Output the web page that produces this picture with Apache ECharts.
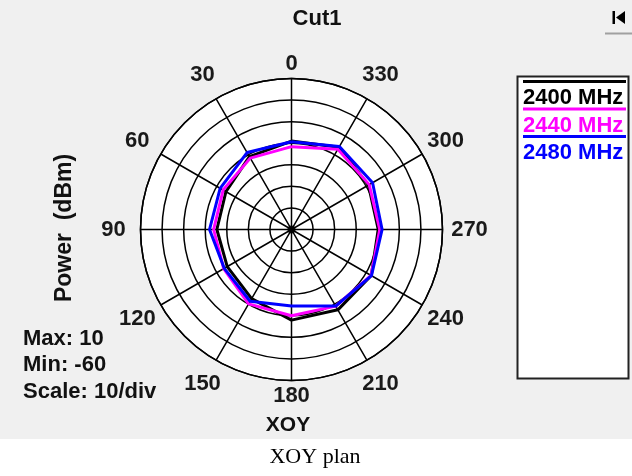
<!DOCTYPE html>
<html>
<head>
<meta charset="utf-8">
<script src="https://cdn.jsdelivr.net/npm/echarts@6/dist/echarts.min.js"></script>
<style>
html,body{margin:0;padding:0;background:#fff;}
#chart{width:632px;height:476px;}
</style>
</head>
<body>
<div id="chart"></div>
<script>
// ---- data ----
const angles = [0, 30, 60, 90, 120, 150, 180, 210, 240, 270, 300, 330];
const angleTickLabels = ['0', '30', '60', '90', '120', '150', '180', '210', '240', '270', '300', '330'];
const seriesNames = ['2400 MHz', '2440 MHz', '2480 MHz'];
const seriesColors = ['#000000', '#ff00ff', '#0000ff'];
const power2400 = [-19, -21, -24.9, -25.4, -25.6, -23, -18, -17, -17.3, -19.8, -18.8, -16];
const power2440 = [-21.6, -21.8, -23.4, -23.9, -23.7, -20.2, -20, -19, -17.4, -19.1, -18.4, -17];
const power2480 = [-19.3, -18.8, -21.8, -22, -24, -21.6, -24.5, -19, -17.2, -18, -16.6, -15.6];
const rMin = -60, rMax = 10, rStep = 10;
const infoLines = ['Max: 10', 'Min: -60', 'Scale: 10/div'];
const titleText = 'Cut1';
const axisTitle = 'Power  (dBm)';
const planeName = 'XOY';
const caption = 'XOY plan';

const FONT = '"Liberation Sans", Arial, sans-serif';
const CX = 291.5, CY = 229.5, R = 151;
const chart = echarts.init(document.getElementById('chart'), null, {renderer: 'canvas'});

function closed(vals) {
  const d = angles.map((a, i) => [vals[i], a]);
  d.push([vals[0], 360]);
  return d;
}
const allVals = [power2400, power2440, power2480];

const series = allVals.map((v, i) => ({
  type: 'line',
  name: seriesNames[i],
  coordinateSystem: 'polar',
  data: closed(v),
  symbol: 'none',
  lineStyle: {color: seriesColors[i], width: 3},
  z: 3 + i,
  animation: false
}));
series.push({
  type: 'scatter', coordinateSystem: 'polar', data: [[rMin, 0]],
  symbolSize: 8, itemStyle: {color: '#000'}, z: 10, animation: false, silent: true
});

const graphics = [
  {type: 'rect', shape: {x: 0, y: 0, width: 632, height: 439}, style: {fill: '#f0f0f0'}, z: -10, silent: true},
  {type: 'circle', shape: {cx: CX, cy: CY, r: R}, style: {fill: '#fff'}, z: -9, silent: true},
  {type: 'text', style: {x: 317, y: 19, text: titleText, fill: '#111', font: 'bold 22px ' + FONT, textAlign: 'center', textVerticalAlign: 'middle'}},
  {type: 'text', rotation: Math.PI / 2, x: 65, y: 228, style: {x: 0, y: 0, text: axisTitle, fill: '#111', font: 'bold 23px ' + FONT, textAlign: 'center', textVerticalAlign: 'middle'}},
  {type: 'text', style: {x: 288, y: 425, text: planeName, fill: '#111', font: 'bold 21px ' + FONT, textAlign: 'center', textVerticalAlign: 'middle'}},
  {type: 'text', style: {x: 315, y: 457, text: caption, fill: '#000', font: '22px "Liberation Serif", "Times New Roman", serif', textAlign: 'center', textVerticalAlign: 'middle'}},
  // top-right button
  {type: 'rect', shape: {x: 612.5, y: 11, width: 2.5, height: 13}, style: {fill: '#000'}},
  {type: 'polygon', shape: {points: [[616, 17.5], [625, 11], [625, 24]]}, style: {fill: '#000'}},
  {type: 'line', shape: {x1: 605, y1: 33.5, x2: 632, y2: 33.5}, style: {stroke: '#a0a0a0', lineWidth: 2}},
  // legend box
  {type: 'rect', shape: {x: 517.5, y: 76.5, width: 111, height: 302}, style: {fill: '#fff', stroke: '#222', lineWidth: 2}}
];
infoLines.forEach((t, i) => {
  graphics.push({type: 'text', style: {x: 23, y: 339 + i * 26.3, text: t, fill: '#111', font: 'bold 22px ' + FONT, textAlign: 'left', textVerticalAlign: 'middle'}});
});
seriesNames.forEach((n, i) => {
  const y0 = 81.5 + i * 27.5;
  graphics.push({type: 'line', shape: {x1: 523, y1: y0, x2: 626, y2: y0}, style: {stroke: seriesColors[i], lineWidth: 3}});
  graphics.push({type: 'text', style: {x: 523, y: y0 + 16.5, text: n, fill: seriesColors[i], font: 'bold 22px ' + FONT, textAlign: 'left', textVerticalAlign: 'middle'}});
});
// angle tick labels, centred on their spoke direction
angles.forEach((a, i) => {
  const th = a * Math.PI / 180;
  const d = (a % 180 === 0) ? 166 : 178;
  graphics.push({type: 'text', style: {
    x: CX - d * Math.sin(th), y: CY - d * Math.cos(th),
    text: angleTickLabels[i], fill: '#1a1a1a', font: 'bold 22px ' + FONT,
    textAlign: 'center', textVerticalAlign: 'middle'}});
});

chart.setOption({
  animation: false,
  backgroundColor: '#fff',
  polar: {center: [CX, CY], radius: R},
  angleAxis: {
    type: 'value', min: 0, max: 360, interval: 30, startAngle: 90, clockwise: false,
    axisLine: {show: true, lineStyle: {color: '#000', width: 1.5}},
    axisTick: {show: false},
    axisLabel: {show: false},
    splitLine: {show: true, lineStyle: {color: '#000', width: 1.5}}
  },
  radiusAxis: {
    type: 'value', min: rMin, max: rMax, interval: rStep,
    axisLine: {show: false}, axisTick: {show: false}, axisLabel: {show: false},
    splitLine: {show: true, lineStyle: {color: '#000', width: 1.5}}
  },
  graphic: graphics,
  series: series
});
</script>
</body>
</html>
